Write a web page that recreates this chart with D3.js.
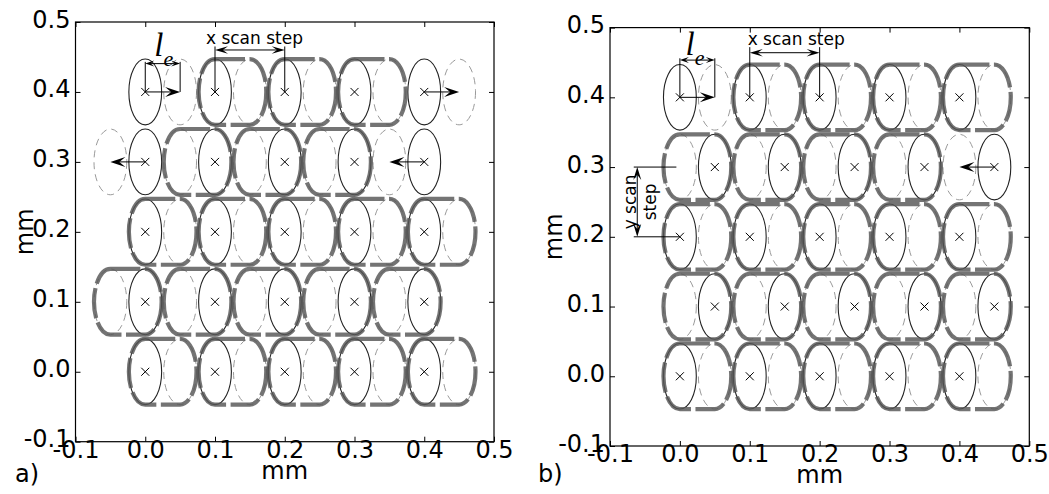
<!DOCTYPE html>
<html><head><meta charset="utf-8">
<script src="https://cdn.jsdelivr.net/npm/d3@7"></script>
<style>body{margin:0;background:#fff}svg{display:block}</style>
</head><body><svg id="chart" width="1049" height="494"></svg>
<script>
// ---------- data ----------
const tickValues = [-0.1, 0.0, 0.1, 0.2, 0.3, 0.4, 0.5];
const tickLabels = ["-0.1", "0.0", "0.1", "0.2", "0.3", "0.4", "0.5"];
const spotRx = 0.0235;   // beam footprint semi-axes (mm)
const spotRy = 0.047;

// panel a: current spot positions [x, y]
const spotsA = [
  [0.0,0.4],[0.1,0.4],[0.2,0.4],[0.3,0.4],[0.4,0.4],
  [0.0,0.3],[0.1,0.3],[0.2,0.3],[0.3,0.3],[0.4,0.3],
  [0.0,0.2],[0.1,0.2],[0.2,0.2],[0.3,0.2],[0.4,0.2],
  [0.0,0.1],[0.1,0.1],[0.2,0.1],[0.3,0.1],[0.4,0.1],
  [0.0,0.0],[0.1,0.0],[0.2,0.0],[0.3,0.0],[0.4,0.0]
];
// panel a: exposure sweeps [xStart, xEnd, y]
const sweepsA = [
  [0.10,0.15,0.4],[0.20,0.25,0.4],[0.30,0.35,0.4],
  [0.05,0.10,0.3],[0.15,0.20,0.3],[0.25,0.30,0.3],
  [0.00,0.05,0.2],[0.10,0.15,0.2],[0.20,0.25,0.2],[0.30,0.35,0.2],[0.40,0.45,0.2],
  [-0.05,0.00,0.1],[0.05,0.10,0.1],[0.15,0.20,0.1],[0.25,0.30,0.1],[0.35,0.40,0.1],
  [0.00,0.05,0.0],[0.10,0.15,0.0],[0.20,0.25,0.0],[0.30,0.35,0.0],[0.40,0.45,0.0]
];
// panel a: displaced (dashed) spot positions [x, y]
const ghostsA = [
  [0.05,0.4],[0.15,0.4],[0.25,0.4],[0.35,0.4],[0.45,0.4],
  [-0.05,0.3],[0.05,0.3],[0.15,0.3],[0.25,0.3],[0.35,0.3],
  [0.05,0.2],[0.15,0.2],[0.25,0.2],[0.35,0.2],[0.45,0.2],
  [-0.05,0.1],[0.05,0.1],[0.15,0.1],[0.25,0.1],[0.35,0.1],
  [0.05,0.0],[0.15,0.0],[0.25,0.0],[0.35,0.0],[0.45,0.0]
];
// panel a: motion arrows [xFrom, xTo, y]
const movesA = [[0.0,0.05,0.4],[0.4,0.45,0.4],[0.0,-0.05,0.3],[0.4,0.35,0.3]];

// panel b
const spotsB = [
  [0.0,0.4],[0.1,0.4],[0.2,0.4],[0.3,0.4],[0.4,0.4],
  [0.05,0.3],[0.15,0.3],[0.25,0.3],[0.35,0.3],[0.45,0.3],
  [0.0,0.2],[0.1,0.2],[0.2,0.2],[0.3,0.2],[0.4,0.2],
  [0.05,0.1],[0.15,0.1],[0.25,0.1],[0.35,0.1],[0.45,0.1],
  [0.0,0.0],[0.1,0.0],[0.2,0.0],[0.3,0.0],[0.4,0.0]
];
const sweepsB = [
  [0.10,0.15,0.4],[0.20,0.25,0.4],[0.30,0.35,0.4],[0.40,0.45,0.4],
  [0.00,0.05,0.3],[0.10,0.15,0.3],[0.20,0.25,0.3],[0.30,0.35,0.3],
  [0.00,0.05,0.2],[0.10,0.15,0.2],[0.20,0.25,0.2],[0.30,0.35,0.2],[0.40,0.45,0.2],
  [0.00,0.05,0.1],[0.10,0.15,0.1],[0.20,0.25,0.1],[0.30,0.35,0.1],[0.40,0.45,0.1],
  [0.00,0.05,0.0],[0.10,0.15,0.0],[0.20,0.25,0.0],[0.30,0.35,0.0],[0.40,0.45,0.0]
];
const ghostsB = [
  [0.05,0.4],[0.15,0.4],[0.25,0.4],[0.35,0.4],[0.45,0.4],
  [0.0,0.3],[0.1,0.3],[0.2,0.3],[0.3,0.3],[0.4,0.3],
  [0.05,0.2],[0.15,0.2],[0.25,0.2],[0.35,0.2],[0.45,0.2],
  [0.0,0.1],[0.1,0.1],[0.2,0.1],[0.3,0.1],[0.4,0.1],
  [0.05,0.0],[0.15,0.0],[0.25,0.0],[0.35,0.0],[0.45,0.0]
];
const movesB = [[0.0,0.05,0.4],[0.45,0.4,0.3]];

// ---------- layout ----------
const panels = [
  { label: "a)", spots: spotsA, sweeps: sweepsA, ghosts: ghostsA, moves: movesA,
    left: 75.5, right: 494, top: 22, bottom: 441.7, ylabX: 33, tagX: 15,
    le: { top: 0.443, arrow: 0.4405, lx: 0.013, ly: 0.452 },
    xs: { top: 0.465, arrow: 0.46, tx: 0.087, ty: 0.468 }, ys: false },
  { label: "b)", spots: spotsB, sweeps: sweepsB, ghosts: ghostsB, moves: movesB,
    left: 610, right: 1029.3, top: 27.6, bottom: 446, ylabX: 562, tagX: 538,
    le: { top: 0.456, arrow: 0.4534, lx: 0.008, ly: 0.4605 },
    xs: { top: 0.472, arrow: 0.464, tx: 0.097, ty: 0.4756 }, ys: true }
];

const svg = d3.select("#chart");
const FONT = "DejaVu Sans";

function arrowHead(g, tx, ty, ux, uy, L, W, notch) {
  const px = -uy, py = ux;
  const pts = [
    [tx, ty],
    [tx - L*ux + W*px, ty - L*uy + W*py],
    [tx - L*notch*ux, ty - L*notch*uy],
    [tx - L*ux - W*px, ty - L*uy - W*py]
  ];
  g.append("path").attr("d", "M" + pts.map(p => p.join(",")).join("L") + "Z")
    .attr("fill", "#000").attr("stroke", "none");
}
function arrow(g, x1, y1, x2, y2, L, W, notch, both) {
  const dx = x2 - x1, dy = y2 - y1, len = Math.hypot(dx, dy);
  const ux = dx/len, uy = dy/len;
  g.append("line").attr("x1", x1 + (both ? ux*L*notch : 0)).attr("y1", y1 + (both ? uy*L*notch : 0))
    .attr("x2", x2 - ux*L*notch).attr("y2", y2 - uy*L*notch)
    .attr("stroke", "#000").attr("stroke-width", 1);
  arrowHead(g, x2, y2, ux, uy, L, W, notch);
  if (both) arrowHead(g, x1, y1, -ux, -uy, L, W, notch);
}

panels.forEach(P => {
  const x = d3.scaleLinear().domain([-0.1, 0.5]).range([P.left, P.right]);
  const y = d3.scaleLinear().domain([-0.1, 0.5]).range([P.bottom, P.top]);
  const rx = x(spotRx) - x(0), ry = y(0) - y(spotRy);
  const g = svg.append("g");

  // thin dashed ghost spots
  g.selectAll(".ghost").data(P.ghosts).join("ellipse")
    .attr("cx", d => x(d[0])).attr("cy", d => y(d[1]))
    .attr("rx", rx).attr("ry", ry)
    .attr("fill", "none").attr("stroke", "#9a9a9a").attr("stroke-width", 1)
    .attr("stroke-dasharray", "7,5");
  // thin solid spots
  g.selectAll(".spot").data(P.spots).join("ellipse")
    .attr("cx", d => x(d[0])).attr("cy", d => y(d[1]))
    .attr("rx", rx).attr("ry", ry)
    .attr("fill", "none").attr("stroke", "#222").attr("stroke-width", 1.1);
  // thick dashed sweeps
  g.selectAll(".sweep").data(P.sweeps).join("path")
    .attr("d", d => {
      const a = x(d[0]), b = x(d[1]), c = y(d[2]);
      return `M${a},${c-ry}L${b},${c-ry}A${rx},${ry} 0 0 1 ${b},${c+ry}` +
             `L${a},${c+ry}A${rx},${ry} 0 0 1 ${a},${c-ry}Z`;
    })
    .attr("fill", "none").attr("stroke", "#555").attr("stroke-opacity", 0.82)
    .attr("stroke-width", 4.2).attr("stroke-dasharray", "30,4.5");
  // x markers
  g.selectAll(".mk").data(P.spots).join("path")
    .attr("transform", d => `translate(${x(d[0])},${y(d[1])})`)
    .attr("d", "M-4,-4L4,4M-4,4L4,-4")
    .attr("stroke", "#000").attr("stroke-width", 1).attr("fill", "none");
  // motion arrows
  P.moves.forEach(m => arrow(g, x(m[0]), y(m[2]), x(m[1]), y(m[2]), 15, 5, 0.6, false));

  // l_e annotation
  [0, 0.05].forEach(v => g.append("line")
    .attr("x1", x(v)).attr("x2", x(v)).attr("y1", y(0.4)).attr("y2", y(P.le.top))
    .attr("stroke", "#000").attr("stroke-width", 1));
  arrow(g, x(0), y(P.le.arrow), x(0.05), y(P.le.arrow), 9, 3, 0.6, true);
  const le = g.append("text").attr("x", x(P.le.lx)).attr("y", y(P.le.ly))
    .attr("font-family", "Liberation Serif").attr("font-style", "italic");
  le.append("tspan").attr("font-size", 33).text("l");
  le.append("tspan").attr("font-size", 22).attr("dy", 10).text("e");

  // x scan step annotation
  [0.1, 0.2].forEach(v => g.append("line")
    .attr("x1", x(v)).attr("x2", x(v)).attr("y1", y(0.4)).attr("y2", y(P.xs.top))
    .attr("stroke", "#000").attr("stroke-width", 1));
  arrow(g, x(0.1), y(P.xs.arrow), x(0.2), y(P.xs.arrow), 13, 3.8, 0.6, true);
  g.append("text").attr("x", x(P.xs.tx)).attr("y", y(P.xs.ty))
    .attr("font-family", FONT).attr("font-size", 17).text("x scan step");

  // y scan step annotation
  if (P.ys) {
    g.append("line").attr("x1", x(-0.066)).attr("x2", x(-0.005))
      .attr("y1", y(0.3)).attr("y2", y(0.3)).attr("stroke", "#000");
    g.append("line").attr("x1", x(-0.066)).attr("x2", x(0))
      .attr("y1", y(0.2)).attr("y2", y(0.2)).attr("stroke", "#000");
    arrow(g, x(-0.061), y(0.3), x(-0.061), y(0.2), 13, 4, 0.6, true);
    const t = g.append("text").attr("font-family", FONT).attr("font-size", 17)
      .attr("text-anchor", "middle")
      .attr("transform", `translate(${x(-0.063)},${y(0.25)}) rotate(-90)`);
    t.append("tspan").attr("x", 0).attr("y", 0).text("y scan");
    t.append("tspan").attr("x", 0).attr("y", 20).text("step");
  }

  // axes
  const styleAxis = sel => {
    sel.select(".domain").remove();
    sel.selectAll("line").attr("stroke", "#000");
    sel.selectAll("text").attr("font-family", FONT).attr("font-size", 24).attr("fill", "#000");
  };
  svg.append("g").attr("transform", `translate(0,${P.bottom})`)
    .call(d3.axisBottom(x).tickValues(tickValues).tickFormat((d, i) => tickLabels[i])
      .tickSizeInner(-5).tickSizeOuter(0).tickPadding(-1))
    .call(styleAxis);
  svg.append("g").attr("transform", `translate(0,${P.top})`)
    .call(d3.axisTop(x).tickValues(tickValues).tickFormat("").tickSizeInner(-5).tickSizeOuter(0))
    .call(styleAxis);
  svg.append("g").attr("transform", `translate(${P.left},0)`)
    .call(d3.axisLeft(y).tickValues(tickValues).tickFormat((d, i) => tickLabels[i])
      .tickSizeInner(-5).tickSizeOuter(0).tickPadding(5))
    .call(styleAxis)
    .call(s => s.selectAll("text").attr("dy", "0.21em"));
  svg.append("g").attr("transform", `translate(${P.right},0)`)
    .call(d3.axisRight(y).tickValues(tickValues).tickFormat("").tickSizeInner(-5).tickSizeOuter(0))
    .call(styleAxis);
  svg.append("rect").attr("x", P.left).attr("y", P.top)
    .attr("width", P.right - P.left).attr("height", P.bottom - P.top)
    .attr("fill", "none").attr("stroke", "#000").attr("stroke-width", 1.2);

  // axis titles
  svg.append("text").attr("x", x(0.2)).attr("y", P.bottom + 37)
    .attr("text-anchor", "middle").attr("font-family", FONT).attr("font-size", 24).text("mm");
  svg.append("text").attr("transform", `translate(${P.ylabX},${y(0.2)}) rotate(-90)`)
    .attr("text-anchor", "middle").attr("font-family", FONT).attr("font-size", 24).text("mm");
  svg.append("text").attr("x", P.tagX).attr("y", 482)
    .attr("font-family", FONT).attr("font-size", 24).text(P.label);
});
</script></body></html>
